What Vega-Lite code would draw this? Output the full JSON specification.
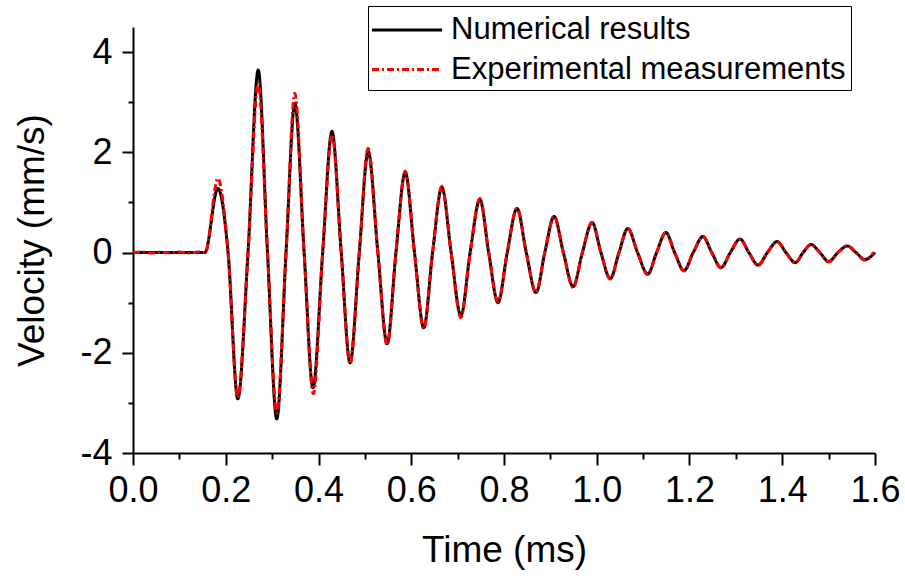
{
  "$schema": "https://vega.github.io/schema/vega-lite/v6.json",
  "width": 742,
  "height": 426,
  "autosize": "none",
  "padding": {"left": 133, "top": 27, "right": 30, "bottom": 126},
  "background": "white",
  "config": {
    "view": {"stroke": null},
    "axis": {
      "labelFont": "Liberation Sans",
      "titleFont": "Liberation Sans",
      "labelFontSize": 36,
      "titleFontSize": 37,
      "titleFontWeight": "normal",
      "labelColor": "black",
      "titleColor": "black",
      "domainColor": "black",
      "domainWidth": 2,
      "tickColor": "black",
      "tickWidth": 2,
      "grid": false,
      "labelFlush": false,
      "labelOverlap": false,
      "labelBound": false
    },
    "legend": {
      "orient": "none",
      "legendX": 235,
      "legendY": -21,
      "strokeColor": "black",
      "fillColor": "white",
      "padding": 5,
      "symbolType": "M-2,0H2",
      "symbolSize": 1225,
      "symbolStrokeWidth": 3,
      "symbolOffset": 15,
      "labelFont": "Liberation Sans",
      "labelFontSize": 31,
      "labelColor": "black",
      "labelOffset": 25,
      "rowPadding": 5.5,
      "labelLimit": 600
    }
  },
  "datasets": {
    "num": [
      {"t": 0, "v": 0, "series": "Numerical results"},
      {"t": 0.155, "v": 0, "series": "Numerical results"},
      {"t": 0.183, "v": 1.28, "series": "Numerical results"},
      {"t": 0.205, "v": 0, "series": "Numerical results"},
      {"t": 0.226, "v": -2.92, "series": "Numerical results"},
      {"t": 0.248, "v": 0, "series": "Numerical results"},
      {"t": 0.27, "v": 3.64, "series": "Numerical results"},
      {"t": 0.29, "v": 0, "series": "Numerical results"},
      {"t": 0.31, "v": -3.32, "series": "Numerical results"},
      {"t": 0.33, "v": 0, "series": "Numerical results"},
      {"t": 0.349, "v": 2.98, "series": "Numerical results"},
      {"t": 0.369, "v": 0, "series": "Numerical results"},
      {"t": 0.388, "v": -2.7, "series": "Numerical results"},
      {"t": 0.409, "v": 0, "series": "Numerical results"},
      {"t": 0.429, "v": 2.42, "series": "Numerical results"},
      {"t": 0.449, "v": 0, "series": "Numerical results"},
      {"t": 0.468, "v": -2.2, "series": "Numerical results"},
      {"t": 0.488, "v": 0, "series": "Numerical results"},
      {"t": 0.507, "v": 2.02, "series": "Numerical results"},
      {"t": 0.528, "v": 0, "series": "Numerical results"},
      {"t": 0.548, "v": -1.82, "series": "Numerical results"},
      {"t": 0.567, "v": 0, "series": "Numerical results"},
      {"t": 0.587, "v": 1.6, "series": "Numerical results"},
      {"t": 0.607, "v": 0, "series": "Numerical results"},
      {"t": 0.627, "v": -1.5, "series": "Numerical results"},
      {"t": 0.646, "v": 0, "series": "Numerical results"},
      {"t": 0.666, "v": 1.3, "series": "Numerical results"},
      {"t": 0.686, "v": 0, "series": "Numerical results"},
      {"t": 0.707, "v": -1.26, "series": "Numerical results"},
      {"t": 0.727, "v": 0, "series": "Numerical results"},
      {"t": 0.748, "v": 1.06, "series": "Numerical results"},
      {"t": 0.767, "v": 0, "series": "Numerical results"},
      {"t": 0.787, "v": -1.0, "series": "Numerical results"},
      {"t": 0.807, "v": 0, "series": "Numerical results"},
      {"t": 0.828, "v": 0.88, "series": "Numerical results"},
      {"t": 0.848, "v": 0, "series": "Numerical results"},
      {"t": 0.869, "v": -0.8, "series": "Numerical results"},
      {"t": 0.888, "v": 0, "series": "Numerical results"},
      {"t": 0.908, "v": 0.72, "series": "Numerical results"},
      {"t": 0.928, "v": 0, "series": "Numerical results"},
      {"t": 0.949, "v": -0.68, "series": "Numerical results"},
      {"t": 0.969, "v": 0, "series": "Numerical results"},
      {"t": 0.99, "v": 0.6, "series": "Numerical results"},
      {"t": 1.009, "v": 0, "series": "Numerical results"},
      {"t": 1.029, "v": -0.52, "series": "Numerical results"},
      {"t": 1.048, "v": 0, "series": "Numerical results"},
      {"t": 1.067, "v": 0.48, "series": "Numerical results"},
      {"t": 1.088, "v": 0, "series": "Numerical results"},
      {"t": 1.11, "v": -0.43, "series": "Numerical results"},
      {"t": 1.129, "v": 0, "series": "Numerical results"},
      {"t": 1.149, "v": 0.4, "series": "Numerical results"},
      {"t": 1.168, "v": 0, "series": "Numerical results"},
      {"t": 1.188, "v": -0.36, "series": "Numerical results"},
      {"t": 1.208, "v": 0, "series": "Numerical results"},
      {"t": 1.229, "v": 0.32, "series": "Numerical results"},
      {"t": 1.248, "v": 0, "series": "Numerical results"},
      {"t": 1.268, "v": -0.3, "series": "Numerical results"},
      {"t": 1.288, "v": 0, "series": "Numerical results"},
      {"t": 1.309, "v": 0.27, "series": "Numerical results"},
      {"t": 1.328, "v": 0, "series": "Numerical results"},
      {"t": 1.348, "v": -0.25, "series": "Numerical results"},
      {"t": 1.368, "v": 0, "series": "Numerical results"},
      {"t": 1.389, "v": 0.22, "series": "Numerical results"},
      {"t": 1.408, "v": 0, "series": "Numerical results"},
      {"t": 1.428, "v": -0.2, "series": "Numerical results"},
      {"t": 1.445, "v": 0, "series": "Numerical results"},
      {"t": 1.462, "v": 0.16, "series": "Numerical results"},
      {"t": 1.481, "v": 0, "series": "Numerical results"},
      {"t": 1.5, "v": -0.18, "series": "Numerical results"},
      {"t": 1.52, "v": 0, "series": "Numerical results"},
      {"t": 1.54, "v": 0.13, "series": "Numerical results"},
      {"t": 1.559, "v": 0, "series": "Numerical results"},
      {"t": 1.578, "v": -0.14, "series": "Numerical results"},
      {"t": 1.6, "v": 0.0, "series": "Numerical results"}
    ],
    "exp": [
      {"t": 0, "v": 0, "series": "Experimental measurements"},
      {"t": 0.02, "v": 0.01, "series": "Experimental measurements"},
      {"t": 0.04, "v": -0.01, "series": "Experimental measurements"},
      {"t": 0.06, "v": 0.01, "series": "Experimental measurements"},
      {"t": 0.08, "v": -0.01, "series": "Experimental measurements"},
      {"t": 0.1, "v": 0.01, "series": "Experimental measurements"},
      {"t": 0.12, "v": -0.01, "series": "Experimental measurements"},
      {"t": 0.14, "v": 0.01, "series": "Experimental measurements"},
      {"t": 0.156, "v": 0, "series": "Experimental measurements"},
      {"t": 0.183, "v": 1.48, "series": "Experimental measurements"},
      {"t": 0.205, "v": 0, "series": "Experimental measurements"},
      {"t": 0.226, "v": -2.9, "series": "Experimental measurements"},
      {"t": 0.248, "v": 0, "series": "Experimental measurements"},
      {"t": 0.27, "v": 3.38, "series": "Experimental measurements"},
      {"t": 0.29, "v": 0, "series": "Experimental measurements"},
      {"t": 0.31, "v": -3.2, "series": "Experimental measurements"},
      {"t": 0.33, "v": 0, "series": "Experimental measurements"},
      {"t": 0.349, "v": 3.18, "series": "Experimental measurements"},
      {"t": 0.369, "v": 0, "series": "Experimental measurements"},
      {"t": 0.389, "v": -2.82, "series": "Experimental measurements"},
      {"t": 0.409, "v": 0, "series": "Experimental measurements"},
      {"t": 0.429, "v": 2.35, "series": "Experimental measurements"},
      {"t": 0.449, "v": 0, "series": "Experimental measurements"},
      {"t": 0.468, "v": -2.22, "series": "Experimental measurements"},
      {"t": 0.488, "v": 0, "series": "Experimental measurements"},
      {"t": 0.507, "v": 2.08, "series": "Experimental measurements"},
      {"t": 0.528, "v": 0, "series": "Experimental measurements"},
      {"t": 0.548, "v": -1.85, "series": "Experimental measurements"},
      {"t": 0.567, "v": 0, "series": "Experimental measurements"},
      {"t": 0.587, "v": 1.62, "series": "Experimental measurements"},
      {"t": 0.607, "v": 0, "series": "Experimental measurements"},
      {"t": 0.627, "v": -1.52, "series": "Experimental measurements"},
      {"t": 0.646, "v": 0, "series": "Experimental measurements"},
      {"t": 0.666, "v": 1.32, "series": "Experimental measurements"},
      {"t": 0.686, "v": 0, "series": "Experimental measurements"},
      {"t": 0.707, "v": -1.3, "series": "Experimental measurements"},
      {"t": 0.727, "v": 0, "series": "Experimental measurements"},
      {"t": 0.748, "v": 1.08, "series": "Experimental measurements"},
      {"t": 0.767, "v": 0, "series": "Experimental measurements"},
      {"t": 0.787, "v": -0.98, "series": "Experimental measurements"},
      {"t": 0.807, "v": 0, "series": "Experimental measurements"},
      {"t": 0.828, "v": 0.88, "series": "Experimental measurements"},
      {"t": 0.848, "v": 0, "series": "Experimental measurements"},
      {"t": 0.869, "v": -0.8, "series": "Experimental measurements"},
      {"t": 0.888, "v": 0, "series": "Experimental measurements"},
      {"t": 0.908, "v": 0.72, "series": "Experimental measurements"},
      {"t": 0.928, "v": 0, "series": "Experimental measurements"},
      {"t": 0.949, "v": -0.7, "series": "Experimental measurements"},
      {"t": 0.969, "v": 0, "series": "Experimental measurements"},
      {"t": 0.99, "v": 0.6, "series": "Experimental measurements"},
      {"t": 1.009, "v": 0, "series": "Experimental measurements"},
      {"t": 1.029, "v": -0.53, "series": "Experimental measurements"},
      {"t": 1.048, "v": 0, "series": "Experimental measurements"},
      {"t": 1.067, "v": 0.48, "series": "Experimental measurements"},
      {"t": 1.088, "v": 0, "series": "Experimental measurements"},
      {"t": 1.11, "v": -0.44, "series": "Experimental measurements"},
      {"t": 1.129, "v": 0, "series": "Experimental measurements"},
      {"t": 1.149, "v": 0.39, "series": "Experimental measurements"},
      {"t": 1.168, "v": 0, "series": "Experimental measurements"},
      {"t": 1.188, "v": -0.37, "series": "Experimental measurements"},
      {"t": 1.208, "v": 0, "series": "Experimental measurements"},
      {"t": 1.229, "v": 0.31, "series": "Experimental measurements"},
      {"t": 1.248, "v": 0, "series": "Experimental measurements"},
      {"t": 1.268, "v": -0.31, "series": "Experimental measurements"},
      {"t": 1.288, "v": 0, "series": "Experimental measurements"},
      {"t": 1.309, "v": 0.26, "series": "Experimental measurements"},
      {"t": 1.328, "v": 0, "series": "Experimental measurements"},
      {"t": 1.348, "v": -0.26, "series": "Experimental measurements"},
      {"t": 1.368, "v": 0, "series": "Experimental measurements"},
      {"t": 1.389, "v": 0.21, "series": "Experimental measurements"},
      {"t": 1.408, "v": 0, "series": "Experimental measurements"},
      {"t": 1.428, "v": -0.21, "series": "Experimental measurements"},
      {"t": 1.445, "v": 0, "series": "Experimental measurements"},
      {"t": 1.462, "v": 0.16, "series": "Experimental measurements"},
      {"t": 1.481, "v": 0, "series": "Experimental measurements"},
      {"t": 1.5, "v": -0.19, "series": "Experimental measurements"},
      {"t": 1.52, "v": 0, "series": "Experimental measurements"},
      {"t": 1.54, "v": 0.13, "series": "Experimental measurements"},
      {"t": 1.559, "v": 0, "series": "Experimental measurements"},
      {"t": 1.578, "v": -0.15, "series": "Experimental measurements"},
      {"t": 1.597, "v": 0.0, "series": "Experimental measurements"}
    ]
  },
  "encoding": {
    "color": {
      "field": "series",
      "type": "nominal",
      "scale": {"domain": ["Numerical results", "Experimental measurements"], "range": ["black", "#ff0000"]},
      "legend": {"title": null}
    },
    "strokeDash": {
      "field": "series",
      "type": "nominal",
      "scale": {"domain": ["Numerical results", "Experimental measurements"], "range": [[1, 0], [7, 3, 2, 3]]},
      "legend": {"title": null}
    }
  },
  "layer": [
    {
      "data": {"name": "num"},
      "mark": {"type": "line", "strokeWidth": 3, "interpolate": "monotone"},
      "encoding": {
        "x": {
          "field": "t", "type": "quantitative",
          "scale": {"domain": [0, 1.6], "nice": false, "zero": false},
          "axis": {"orient": "bottom", "title": "Time (ms)", "values": [0, 0.2, 0.4, 0.6, 0.8, 1.0, 1.2, 1.4, 1.6], "format": ".1f", "tickSize": 12, "labelPadding": 8, "titlePadding": 24}
        },
        "y": {
          "field": "v", "type": "quantitative",
          "scale": {"domain": [-4, 4.5], "nice": false, "zero": false},
          "axis": {"orient": "left", "title": "Velocity (mm/s)", "values": [-4, -2, 0, 2, 4], "labelExpr": "'' + datum.value", "tickSize": 11, "labelPadding": 10, "titlePadding": 28}
        }
      }
    },
    {
      "data": {"name": "exp"},
      "mark": {"type": "line", "strokeWidth": 3, "interpolate": "monotone"},
      "encoding": {
        "x": {
          "field": "t", "type": "quantitative",
          "axis": {"orient": "bottom", "title": null, "labels": false, "domain": false, "values": [0.1, 0.3, 0.5, 0.7, 0.9, 1.1, 1.3, 1.5], "tickSize": 6}
        },
        "y": {
          "field": "v", "type": "quantitative",
          "axis": {"orient": "left", "title": null, "labels": false, "domain": false, "values": [-3, -1, 1, 3], "tickSize": 5}
        }
      }
    }
  ],
  "resolve": {"axis": {"x": "independent", "y": "independent"}}
}
